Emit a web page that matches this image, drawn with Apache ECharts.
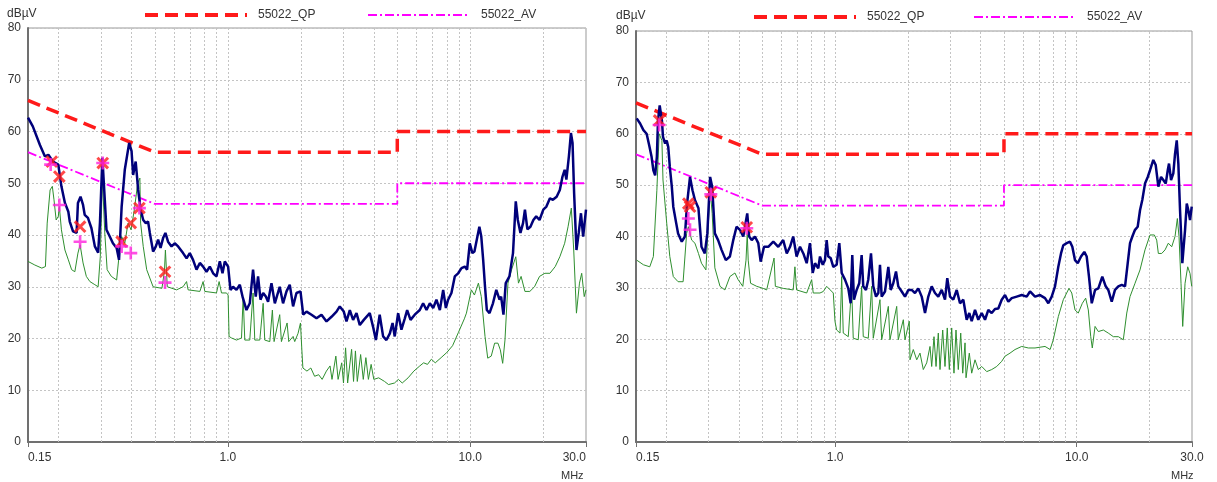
<!DOCTYPE html>
<html><head><meta charset="utf-8">
<script src="https://cdn.jsdelivr.net/npm/echarts@6/dist/echarts.min.js"></script>
<style>html,body{margin:0;padding:0;background:#fff}#c{width:1217px;height:482px}</style>
</head><body><div id="c"></div>
<script>
// Limit lines (EN 55022 class B)
const limitFreq = [0.15, 0.5, 5, 5, 30];
const qpLimit = [66, 56, 56, 60, 60];
const avLimit = [56, 46, 46, 50, 50];
// vertical log grid frequencies (MHz)
const gridFreqs = [0.2,0.3,0.4,0.5,0.6,0.7,0.8,0.9,1,2,3,4,5,6,7,8,9,10,20];

// ---- left chart ----
const leftPeak = [[0.150,62.7],[0.157,61.0],[0.168,57.4],[0.176,55.2],[0.182,55.5],[0.190,54.2],[0.200,53.6],[0.206,49.4],[0.213,46.2],[0.220,44.5],[0.223,42.6],[0.230,40.7],[0.238,40.4],[0.241,46.2],[0.247,47.4],[0.253,45.8],[0.257,43.9],[0.265,43.3],[0.274,41.3],[0.283,37.8],[0.292,36.6],[0.297,42.3],[0.304,54.9],[0.311,46.8],[0.316,41.0],[0.326,39.7],[0.336,38.4],[0.348,37.5],[0.356,35.2],[0.365,45.5],[0.376,52.6],[0.382,52.9],[0.392,57.8],[0.401,56.2],[0.407,51.6],[0.417,54.2],[0.427,48.7],[0.437,44.9],[0.448,42.9],[0.459,42.3],[0.469,42.6],[0.477,40.4],[0.492,36.8],[0.505,37.8],[0.516,39.1],[0.528,37.5],[0.541,39.4],[0.553,40.4],[0.567,38.7],[0.586,37.8],[0.604,38.4],[0.624,37.8],[0.634,38.1],[0.654,36.5],[0.676,35.5],[0.697,36.5],[0.719,35.2],[0.743,33.3],[0.767,34.6],[0.791,33.9],[0.817,32.9],[0.843,33.9],[0.870,32.6],[0.898,32.0],[0.927,34.9],[0.951,32.6],[0.972,34.9],[1.003,33.9],[1.026,29.4],[1.051,30.0],[1.086,29.4],[1.121,30.4],[1.150,28.1],[1.194,25.5],[1.232,26.8],[1.271,33.3],[1.304,28.1],[1.333,32.0],[1.364,27.5],[1.399,28.8],[1.435,28.1],[1.466,27.1],[1.514,30.7],[1.563,26.8],[1.637,30.0],[1.690,26.8],[1.746,29.1],[1.801,30.4],[1.859,26.2],[1.919,28.8],[1.994,29.1],[2.046,24.6],[2.112,25.2],[2.214,24.6],[2.322,23.9],[2.434,24.6],[2.553,23.3],[2.677,24.2],[2.807,25.2],[2.896,26.2],[3.008,25.2],[3.086,23.3],[3.186,25.5],[3.286,23.6],[3.394,24.9],[3.502,22.6],[3.638,23.6],[3.85,24.9],[3.97,22.3],[4.08,19.7],[4.23,24.6],[4.37,20.4],[4.51,19.7],[4.66,21.0],[4.78,23.0],[4.88,20.4],[5.04,24.9],[5.20,21.7],[5.37,23.9],[5.49,25.5],[5.67,23.6],[5.90,24.6],[6.19,25.5],[6.39,26.8],[6.60,25.5],[6.81,26.8],[7.03,25.9],[7.25,27.5],[7.49,25.5],[7.73,29.4],[7.93,25.9],[8.10,27.5],[8.36,28.8],[8.63,32.0],[8.91,32.6],[9.20,33.6],[9.49,33.9],[9.70,33.3],[9.95,38.4],[10.2,36.5],[10.4,36.8],[10.7,39.7],[10.9,41.6],[11.1,39.7],[11.3,35.2],[11.5,30.0],[11.7,25.5],[12.0,24.9],[12.4,26.8],[12.8,29.4],[13.2,27.5],[13.4,28.1],[13.7,24.6],[14.0,30.7],[14.5,32.0],[15.0,36.5],[15.4,46.5],[15.7,42.9],[16.1,40.4],[16.5,42.3],[16.8,44.9],[17.2,41.1],[17.7,41.6],[18.2,42.9],[18.7,43.6],[19.3,42.9],[20.0,44.9],[20.6,45.5],[21.3,47.1],[21.9,46.8],[22.7,47.4],[23.4,48.7],[24.0,51.3],[24.5,52.6],[24.9,50.7],[25.5,55.2],[26.0,59.7],[26.4,57.8],[26.8,48.1],[27.4,37.1],[28.0,40.4],[28.6,44.2],[29.2,39.7],[30.0,44.9]];
const leftAvg = [[0.150,34.9],[0.160,34.2],[0.171,33.6],[0.177,33.9],[0.180,42.3],[0.185,48.7],[0.189,49.4],[0.192,46.8],[0.196,42.9],[0.200,43.6],[0.202,45.5],[0.206,41.0],[0.213,37.1],[0.220,35.2],[0.227,33.3],[0.234,32.9],[0.241,36.5],[0.246,38.1],[0.253,34.6],[0.261,32.0],[0.270,31.0],[0.283,30.4],[0.292,30.0],[0.298,35.8],[0.304,51.0],[0.311,40.4],[0.318,33.3],[0.331,32.0],[0.348,31.3],[0.358,37.1],[0.365,39.7],[0.376,38.4],[0.388,42.3],[0.399,41.0],[0.412,45.0],[0.425,50.0],[0.434,51.0],[0.437,42.3],[0.448,37.8],[0.463,33.3],[0.492,30.0],[0.535,29.7],[0.548,33.0],[0.553,37.1],[0.563,30.0],[0.615,29.4],[0.654,30.0],[0.665,30.0],[0.676,31.0],[0.686,29.4],[0.767,29.1],[0.791,31.0],[0.804,29.1],[0.898,28.8],[0.921,31.0],[0.942,28.8],[0.988,28.8],[1.003,28.4],[1.012,20.4],[1.036,20.1],[1.086,19.7],[1.139,20.1],[1.157,28.1],[1.175,19.7],[1.232,19.7],[1.271,28.8],[1.292,19.7],[1.355,19.7],[1.399,26.8],[1.420,19.7],[1.490,19.4],[1.527,25.5],[1.552,19.4],[1.637,24.6],[1.664,19.4],[1.756,23.0],[1.784,19.4],[1.859,20.4],[1.888,19.4],[1.949,21.0],[1.994,23.0],[2.02,17.8],[2.04,14.3],[2.12,13.7],[2.2,14.3],[2.28,12.7],[2.37,13.0],[2.45,12.1],[2.55,13.7],[2.64,14.7],[2.69,12.1],[2.79,16.6],[2.85,12.1],[2.95,15.3],[3.0,11.4],[3.06,18.2],[3.12,11.4],[3.24,17.9],[3.30,11.7],[3.36,17.6],[3.42,11.7],[3.53,16.9],[3.62,12.1],[3.71,16.3],[3.80,12.1],[3.90,15.0],[4.0,12.1],[4.19,12.4],[4.43,11.7],[4.60,11.1],[4.87,11.4],[5.05,12.1],[5.24,11.4],[5.54,12.4],[5.85,13.7],[6.19,14.7],[6.42,15.3],[6.66,15.0],[6.91,16.0],[7.17,15.3],[7.58,16.3],[8.0,17.3],[8.45,18.6],[8.94,21.2],[9.45,23.8],[9.64,24.9],[10.1,29.4],[10.4,28.4],[10.8,30.7],[11.1,28.1],[11.5,20.4],[11.8,16.2],[12.2,16.6],[12.6,19.1],[13.0,19.1],[13.3,17.8],[13.6,15.2],[13.9,19.7],[14.3,30.7],[14.8,33.3],[15.4,35.8],[15.8,30.7],[16.2,32.0],[16.8,29.1],[17.6,29.1],[18.4,30.0],[19.3,32.0],[20.3,32.6],[21.3,32.6],[22.4,33.9],[23.4,35.8],[24.5,38.4],[25.3,41.6],[26.1,45.2],[26.7,37.1],[27.4,24.9],[28.2,30.7],[28.8,32.6],[29.5,28.1],[30.0,29.4]];
const leftQP = [[0.188,54.2],[0.202,51.3],[0.246,41.6],[0.305,53.9],[0.365,38.7],[0.398,42.3],[0.432,45.2],[0.551,32.9]];
const leftAV = [[0.186,53.6],[0.202,45.8],[0.246,38.7],[0.305,53.9],[0.365,37.8],[0.398,36.5],[0.432,45.2],[0.551,30.8]];

// ---- right chart ----
const rightPeak = [[0.151,63.0],[0.156,62.0],[0.161,60.7],[0.166,60.0],[0.170,57.8],[0.174,55.5],[0.177,52.9],[0.180,51.9],[0.183,55.5],[0.185,62.6],[0.188,65.5],[0.192,62.6],[0.194,59.4],[0.198,58.1],[0.201,58.7],[0.204,57.4],[0.207,53.6],[0.211,49.7],[0.214,45.8],[0.220,42.6],[0.224,40.6],[0.232,39.0],[0.239,40.0],[0.244,46.4],[0.251,51.6],[0.257,49.0],[0.263,47.1],[0.272,45.5],[0.280,38.0],[0.289,36.7],[0.296,40.6],[0.304,51.6],[0.310,49.7],[0.318,40.6],[0.328,39.3],[0.339,37.4],[0.353,35.4],[0.367,36.1],[0.379,39.3],[0.391,41.9],[0.404,41.3],[0.417,40.0],[0.433,44.5],[0.441,40.0],[0.452,39.3],[0.466,40.0],[0.481,38.7],[0.492,35.1],[0.508,38.0],[0.529,38.0],[0.555,39.0],[0.582,38.0],[0.610,39.3],[0.631,36.7],[0.651,38.0],[0.671,40.0],[0.693,36.1],[0.716,38.0],[0.739,36.7],[0.763,34.8],[0.787,38.7],[0.808,32.9],[0.826,34.8],[0.852,33.8],[0.866,36.1],[0.889,34.5],[0.908,35.4],[0.923,39.3],[0.937,36.1],[0.959,35.8],[0.983,34.1],[1.015,34.5],[1.041,38.7],[1.065,32.9],[1.099,31.6],[1.134,29.9],[1.160,27.0],[1.178,36.4],[1.197,27.7],[1.228,29.6],[1.259,30.9],[1.288,36.4],[1.308,30.3],[1.342,29.6],[1.372,31.6],[1.408,36.7],[1.439,30.3],[1.477,28.3],[1.510,29.0],[1.534,34.5],[1.559,28.3],[1.609,29.3],[1.661,34.1],[1.699,29.6],[1.741,30.9],[1.787,33.2],[1.826,30.3],[1.887,29.3],[1.947,28.3],[2.009,29.6],[2.075,29.6],[2.141,29.0],[2.210,29.9],[2.283,28.3],[2.356,25.1],[2.431,28.3],[2.511,30.3],[2.591,29.0],[2.674,28.3],[2.762,29.6],[2.850,27.7],[2.913,31.9],[2.990,28.3],[3.085,27.7],[3.187,29.6],[3.288,27.0],[3.394,27.7],[3.505,23.8],[3.593,25.1],[3.676,23.5],[3.794,25.7],[3.915,23.8],[4.045,25.1],[4.174,23.8],[4.307,25.7],[4.448,25.1],[4.590,25.9],[4.737,26.0],[4.893,27.7],[5.050,28.6],[5.211,27.3],[5.383,28.0],[5.646,28.3],[5.921,28.6],[6.209,28.3],[6.408,29.3],[6.721,28.3],[7.049,28.6],[7.393,28.0],[7.630,27.0],[7.880,28.3],[8.132,30.3],[8.391,34.1],[8.610,36.7],[8.800,38.3],[9.090,38.7],[9.382,39.0],[9.590,38.0],[9.840,35.4],[10.10,34.8],[10.42,36.1],[10.75,37.0],[11.00,36.1],[11.24,32.2],[11.54,27.0],[11.91,29.6],[12.29,29.9],[12.76,32.2],[13.18,30.3],[13.51,29.6],[13.96,27.3],[14.40,29.6],[14.87,30.3],[15.36,30.6],[15.85,30.3],[16.26,34.8],[16.62,38.7],[16.99,40.0],[17.43,41.3],[17.88,41.9],[18.28,45.1],[18.68,47.1],[19.17,50.3],[19.68,51.6],[20.11,52.9],[20.75,54.9],[21.23,53.9],[21.77,49.7],[22.34,51.6],[22.83,51.0],[23.36,50.3],[23.81,52.9],[24.10,54.2],[24.57,51.0],[25.11,52.3],[25.52,56.1],[25.94,58.7],[26.34,54.2],[26.77,45.1],[27.36,34.8],[28.08,41.3],[28.54,46.4],[28.97,45.1],[29.44,43.2],[29.92,45.8]];
const rightAvg = [[0.151,35.4],[0.161,34.5],[0.171,34.1],[0.177,36.1],[0.183,49.0],[0.187,60.0],[0.192,58.7],[0.194,51.0],[0.201,42.6],[0.207,36.1],[0.214,32.2],[0.224,31.2],[0.235,31.2],[0.243,40.6],[0.247,41.9],[0.255,39.3],[0.263,38.7],[0.272,36.7],[0.280,34.8],[0.292,33.5],[0.299,42.6],[0.304,49.0],[0.310,44.5],[0.318,33.9],[0.334,30.3],[0.350,29.6],[0.367,32.2],[0.385,32.9],[0.397,31.6],[0.415,30.3],[0.428,35.4],[0.433,40.6],[0.437,35.4],[0.447,30.9],[0.474,30.3],[0.504,29.9],[0.521,29.6],[0.559,35.8],[0.566,30.3],[0.610,29.9],[0.671,29.6],[0.682,34.1],[0.693,29.6],[0.763,29.0],[0.800,31.6],[0.812,29.0],[0.866,29.0],[0.894,29.3],[0.923,30.3],[0.983,29.0],[0.999,23.5],[1.015,21.8],[1.048,21.2],[1.065,32.2],[1.081,21.2],[1.134,20.5],[1.171,30.3],[1.189,20.2],[1.247,19.9],[1.288,30.3],[1.308,20.5],[1.372,20.2],[1.417,30.3],[1.439,20.2],[1.534,27.7],[1.559,19.9],[1.661,26.4],[1.687,19.9],[1.799,26.4],[1.826,19.9],[1.916,23.8],[1.947,19.9],[2.028,23.5],[2.042,16.0],[2.107,18.0],[2.177,16.0],[2.246,17.3],[2.318,14.1],[2.394,15.4],[2.471,18.6],[2.511,14.7],[2.567,20.5],[2.617,14.7],[2.674,21.2],[2.718,14.1],[2.789,21.8],[2.850,14.7],[2.913,22.2],[2.970,14.1],[3.038,22.2],[3.105,13.4],[3.165,21.8],[3.235,14.1],[3.311,21.2],[3.375,13.4],[3.450,19.3],[3.483,12.5],[3.593,17.3],[3.676,13.4],[3.794,16.0],[3.915,14.1],[4.045,14.7],[4.243,13.7],[4.448,14.1],[4.666,14.7],[4.893,15.7],[5.050,16.7],[5.297,17.3],[5.555,18.0],[5.921,18.6],[6.305,18.3],[6.721,18.3],[7.393,18.6],[7.762,18.0],[8.000,19.9],[8.391,24.4],[8.800,27.7],[9.29,29.9],[9.54,29.0],[9.84,25.7],[10.15,25.1],[10.55,27.0],[10.89,28.0],[11.17,25.7],[11.43,20.5],[11.60,18.3],[11.91,22.5],[12.29,21.5],[12.89,21.8],[13.51,21.2],[14.18,20.5],[14.87,20.5],[15.59,19.9],[16.11,25.1],[16.62,28.3],[17.43,30.9],[18.28,33.5],[19.17,37.4],[20.11,40.3],[20.95,40.3],[21.43,39.3],[21.77,36.7],[22.48,36.7],[23.21,37.4],[23.94,38.7],[24.73,38.0],[25.52,40.0],[26.09,43.5],[26.51,40.0],[27.02,30.9],[27.46,22.5],[28.08,30.9],[28.80,34.1],[29.44,32.8],[29.92,30.3]];
const rightQP = [[0.187,62.6],[0.247,46.4],[0.251,45.8],[0.306,48.6],[0.431,41.8]];
const rightAV = [[0.187,61.7],[0.247,43.5],[0.251,41.3],[0.306,48.2],[0.431,41.6]];

const FONT = 'Liberation Sans, Arial, sans-serif';
const PLUS = 'path://M5.6,0 L8.4,0 L8.4,5.6 L14,5.6 L14,8.4 L8.4,8.4 L8.4,14 L5.6,14 L5.6,8.4 L0,8.4 L0,5.6 L5.6,5.6 Z';

function limitData(levels){ return limitFreq.map((f,i)=>[f, levels[i]]); }

function xAxisFor(gi, maxAlign){
  return {
    type:'log', logBase:10, min:0.15, max:30, gridIndex:gi,
    axisLine:{show:true, lineStyle:{color:'#707070', width:2}},
    axisTick:{show:true, length:5, lineStyle:{color:'#707070', width:1}},
    splitLine:{show:false},
    axisLabel:{color:'#333', fontSize:12, fontFamily:FONT, margin:10,
      alignMinLabel:'left', alignMaxLabel:maxAlign,
      formatter:function(v){ const r=Math.round(v*100)/100; return r===0.15?'0.15':r.toFixed(1); }}
  };
}
function yAxisFor(gi){
  return {
    type:'value', min:0, max:80, interval:10, gridIndex:gi,
    axisLine:{show:true, lineStyle:{color:'#707070', width:2}},
    axisTick:{show:false},
    splitLine:{show:true, lineStyle:{color:'#c4c4c4', type:[2,2], width:1}},
    axisLabel:{color:'#333', fontSize:12, fontFamily:FONT, margin:7}
  };
}
function seriesFor(gi, peak, avg, qp, av){
  return [
    {type:'line', xAxisIndex:gi, yAxisIndex:gi, data:[], silent:true, z:1,
     markLine:{silent:true, symbol:'none', z:1, animation:false, label:{show:false},
       lineStyle:{color:'#c4c4c4', type:[2,2], width:1},
       data: gridFreqs.map(f=>({xAxis:f}))}},
    {name:'55022_QP', type:'line', xAxisIndex:gi, yAxisIndex:gi, data:limitData(qpLimit),
     symbol:'none', z:3, lineStyle:{color:'#ff1a1a', width:3.5, type:[13,7]}, itemStyle:{color:'#ff1a1a'}},
    {name:'55022_AV', type:'line', xAxisIndex:gi, yAxisIndex:gi, data:limitData(avLimit),
     symbol:'none', z:3, lineStyle:{color:'#ff00ff', width:1.8, type:[9,3,2,3]}, itemStyle:{color:'#ff00ff'}},
    {name:'avg', type:'line', xAxisIndex:gi, yAxisIndex:gi, data:avg, symbol:'none', z:4,
     lineStyle:{color:'#2f8f2f', width:1}},
    {name:'peak', type:'line', xAxisIndex:gi, yAxisIndex:gi, data:peak, symbol:'none', z:5,
     lineStyle:{color:'#00007a', width:2.5}},
    {name:'qpMark', type:'scatter', xAxisIndex:gi, yAxisIndex:gi, data:qp, symbol:PLUS, symbolRotate:45,
     symbolSize:15, z:10, itemStyle:{color:'#ff1a1a'}},
    {name:'avMark', type:'scatter', xAxisIndex:gi, yAxisIndex:gi, data:av, symbol:PLUS,
     symbolSize:13, z:11, itemStyle:{color:'#ff22dd'}}
  ];
}
function legendAt(left, top, name, lw, dash){
  return {left:left, top:top, data:[name], itemWidth:102, itemHeight:10,
    itemStyle:{opacity:0}, lineStyle:{width:lw, type:dash}, selectedMode:false,
    textStyle:{color:'#333', fontSize:12, fontFamily:FONT, padding:[0,0,0,6]}};
}

const chart = echarts.init(document.getElementById('c'), null, {renderer:'canvas'});
chart.setOption({
  animation:false,
  backgroundColor:'#fff',
  grid:[
    {left:28, top:28, width:558, height:414, show:true, borderColor:'#999', borderWidth:1, backgroundColor:'transparent'},
    {left:636, top:31, width:556, height:411, show:true, borderColor:'#999', borderWidth:1, backgroundColor:'transparent'}
  ],
  xAxis:[xAxisFor(0,'right'), xAxisFor(1,'center')],
  yAxis:[yAxisFor(0), yAxisFor(1)],
  legend:[legendAt(138,4,'55022_QP',4,[13,7]), legendAt(362,4,'55022_AV',2,[9,3,2,3]),
          legendAt(747,6,'55022_QP',4,[13,7]), legendAt(968,6,'55022_AV',2,[9,3,2,3])],
  graphic:[
    {type:'text', left:7, top:8, style:{text:'dBµV', fill:'#333', font:'12px '+FONT}},
    {type:'text', left:616, top:10, style:{text:'dBµV', fill:'#333', font:'12px '+FONT}},
    {type:'text', left:561, top:470, style:{text:'MHz', fill:'#333', font:'11px '+FONT}},
    {type:'text', left:1171, top:470, style:{text:'MHz', fill:'#333', font:'11px '+FONT}}
  ],
  series:[].concat(seriesFor(0,leftPeak,leftAvg,leftQP,leftAV), seriesFor(1,rightPeak,rightAvg,rightQP,rightAV))
});
</script></body></html>
